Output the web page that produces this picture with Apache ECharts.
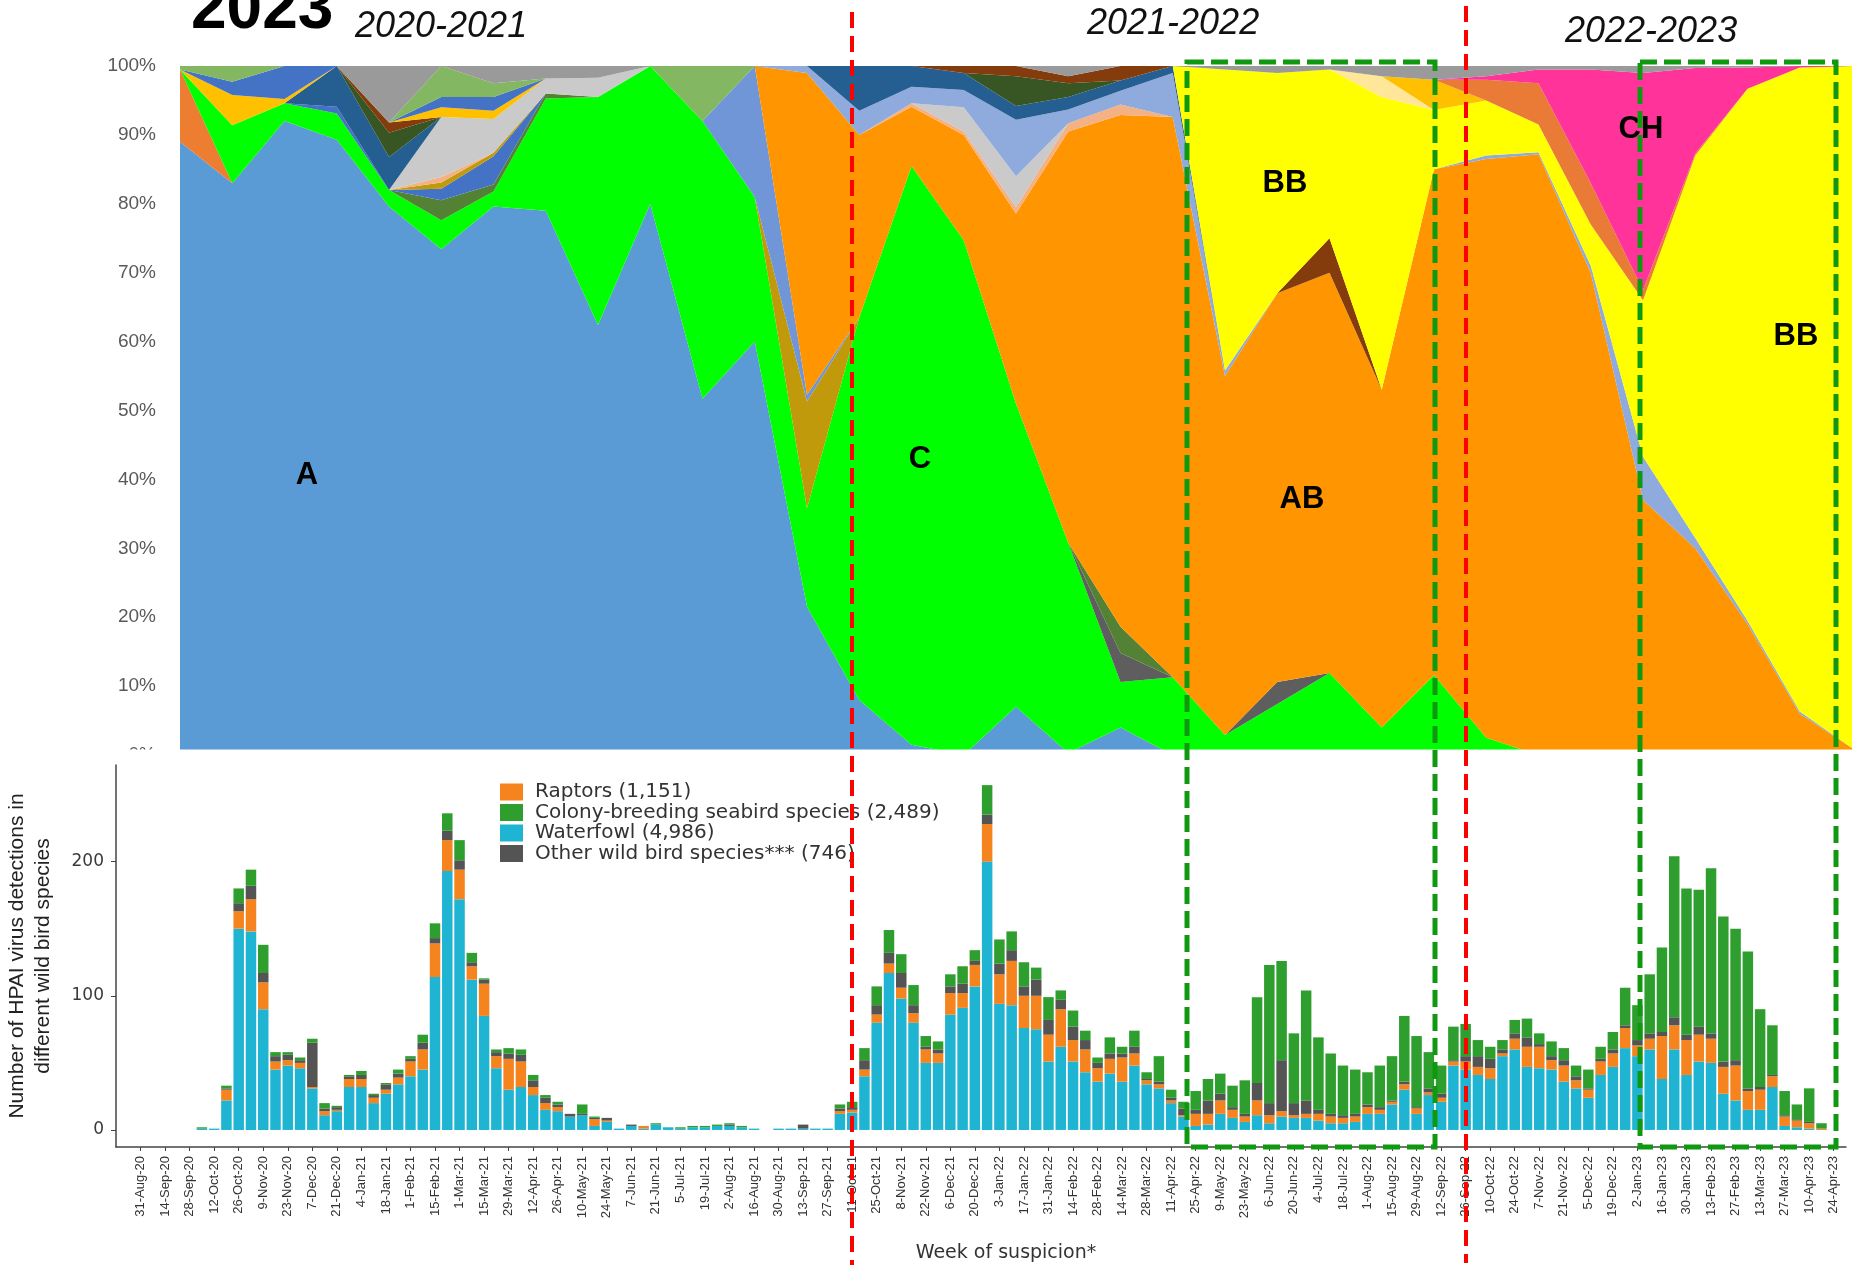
<!DOCTYPE html>
<html>
<head>
<meta charset="utf-8">
<script src="https://cdn.jsdelivr.net/npm/echarts@6/dist/echarts.min.js"></script>
<style>
  html, body { margin: 0; padding: 0; background: #ffffff; }
  #chart { width: 1856px; height: 1267px; }
</style>
</head>
<body>
<div id="chart"></div>
<script>
// ---------- Upper panel: genotype composition (100% stacked areas) ----------
// 33 sampling points, one value per point; each column is normalised to 100%.
const gA     = [89,83,92,89.3,79.6,73.4,79.6,79,62.4,80,51.7, 60,21.5,8,1.5,0,7,0.3,4,0,0,0, 0,0,0,0,0,0,0,0,0,0,0];
const gDO0   = [10.5,0,0,0,0,0,0,0,0,0,0, 0,0,0,0,0,0,0,0,0,0,0, 0,0,0,0,0,0,0,0,0,0,0];
const gC     = [0,8.4,2.6,3.8,2.4,4.2,2.2,16.3,33.1,20,40.3, 21,14.3,55.5,84,74.7,44,30.5,6.6,11.3,2.9,7.4, 11.9,4,11.6,2.5,0,0,0,0,0,0,0];
const gGr    = [0,0,0,0,0,0,0,0,0,0,0, 0,0,0,0,0,0,0,4.2,0,0,3.2, 0,0,0,0,0,0,0,0,0,0,0];
const gDG1   = [0,0,0,0,0,2.9,1,0.7,0,0,0, 0,0,0,0,0,0,0,3.8,0,0,0, 0,0,0,0,0,0,0,0,0,0,0];
const gMB    = [0,0,0,1,0,1.7,4.1,0,0,0,0, 0,0,0,0,0,0,0,0,0,0,0, 0,0,0,0,0,0,0,0,0,0,0];
const gDGold = [0,0,0,0,0,0.9,0.5,0,0,0,0, 0,15.5,0,0,0,0,0,0,0,0,0, 0,0,0,0,0,0,0,0,0,0,0];
const gL     = [0,0,0,0,0,0,0,0,0,0,0, 19,1,0,0,0,0,0,0,0,0,0, 0,0,0,0,0,0,0,0,0,0,0];
const gAB    = [0,0,0,0,0,0,0,0,0,0,0, 0,46.7,26.5,8.6,15.3,27.6,59.7,74.3,81.3,52.1,56.4, 58.1,49,73.4,84,87.2,70,37,30,19,6,1];
const gTan   = [0,0,0,0,0,0.8,0,0,0,0,0, 0,0,0,0.5,0.5,0.9,1.2,1.5,0,0,0, 0,0,0,0,0,0,0,0,0,0,0];
const gLG    = [0,0,0,0,0,8.7,4.9,2.2,2.8,0,0, 0,0,0,0,3.5,4.5,0,0,0,0,0, 0,0,0,0,0,0,0,0,0,0,0];
const gLB    = [0,0,0,0,0,0,0,0,0,0,0, 0,1,3.5,2.4,2.5,8.2,2,2,6.4,0.8,0, 0,0,0,0.5,0.3,1,6.3,1.5,0.5,0.3,0];
const gNavy  = [0,0,0,5.9,4.8,0,0,0,0,0,0, 0,0,6.5,3,2.5,2,1.8,1.5,1,0,0, 0,0,0,0,0,0,0,0,0,0,0];
const gDG2   = [0,0,0,0,3.5,0,0,0,0,0,0, 0,0,0,0,0,4.3,2,0,0,0,0, 0,0,0,0,0,0,0,0,0,0,0];
const gBrown = [0,0,0,0,1.5,0,0,0,0,0,0, 0,0,0,0,1,1.5,1,2.1,0,0,0, 5,0,0,0,0,0,0,0,0,0,0];
const gBB    = [0,0,0,0,0,0,0,0,0,0,0, 0,0,0,0,0,0,0,0,0,43.7,32, 24.5,42.5,8.6,8,4,6,22.7,55.5,77.2,93.5,99];
const gLY    = [0,0,0,0,0,0,0,0,0,0,0, 0,0,0,0,0,0,0,0,0,0,0, 0,3,0,0,0,0,0,0,0,0,0];
const gGold  = [0,4.4,0.6,0,0,1.4,1.2,0,0,0,0, 0,0,0,0,0,0,0,0,0,0,0, 0,0,4.4,0,0,0,0,0,0,0,0];
const gDO    = [0,0,0,0,0,0,0,0,0,0,0, 0,0,0,0,0,0,0,0,0,0,0, 0,0,0,3,6,6,1.5,0.3,0,0,0];
const gCH    = [0,0,0,0,0,0,0,0,0,0,0, 0,0,0,0,0,0,0,0,0,0,0, 0,0,0,0.5,2,16.5,31.5,12.4,3.1,0.2,0];
const gMB2   = [0,1.9,4.8,0,0,1.5,2,0,0,0,0, 0,0,0,0,0,0,0,0,0,0,0, 0,0,0,0,0,0,0,0,0,0,0];
const gLGr   = [0.5,2.3,0,0,0,4.5,2,0,0,0,8, 0,0,0,0,0,0,0,0,0,0,0, 0,0,0,0,0,0,0,0,0,0,0];
const gGrey  = [0,0,0,0,8.2,0,2.5,1.8,1.7,0,0, 0,0,0,0,0,0,1.5,0,0,0.5,1, 0.5,1.5,2,1.5,0.5,0.5,1,0.3,0.2,0,0];

// stacking order, bottom to top
const genotypes = [
  ['A', '#5B9BD5', gA], ['A-2', '#ED7D31', gDO0], ['C', '#00FF00', gC],
  ['G-1', '#5E5E5E', gGr], ['G-2', '#548235', gDG1], ['G-3', '#4472C4', gMB],
  ['G-4', '#C19A0B', gDGold], ['G-5', '#7096D8', gL], ['AB', '#FF9500', gAB],
  ['G-6', '#F4B183', gTan], ['G-7', '#CACACA', gLG], ['G-8', '#8FAADC', gLB],
  ['G-9', '#255E91', gNavy], ['G-10', '#375623', gDG2], ['G-11', '#843C0C', gBrown],
  ['BB', '#FFFF00', gBB], ['G-12', '#FFE699', gLY], ['G-13', '#FFC000', gGold],
  ['G-14', '#E97B36', gDO], ['CH', '#FF3399', gCH], ['G-15', '#4472C4', gMB2],
  ['G-16', '#84B761', gLGr], ['G-17', '#9A9A9A', gGrey]
];
const periods = gA.map((_, k) => String(k));
const colTotals = periods.map((_, k) => genotypes.reduce((s, g) => s + g[2][k], 0));

// ---------- Lower panel: weekly detections by bird group ----------
const weekLabels = [
  '31-Aug-20','14-Sep-20','28-Sep-20','12-Oct-20','26-Oct-20','9-Nov-20','23-Nov-20','7-Dec-20','21-Dec-20',
  '4-Jan-21','18-Jan-21','1-Feb-21','15-Feb-21','1-Mar-21','15-Mar-21','29-Mar-21','12-Apr-21','26-Apr-21',
  '10-May-21','24-May-21','7-Jun-21','21-Jun-21','5-Jul-21','19-Jul-21','2-Aug-21','16-Aug-21','30-Aug-21',
  '13-Sep-21','27-Sep-21','11-Oct-21','25-Oct-21','8-Nov-21','22-Nov-21','6-Dec-21','20-Dec-21',
  '3-Jan-22','17-Jan-22','31-Jan-22','14-Feb-22','28-Feb-22','14-Mar-22','28-Mar-22','11-Apr-22','25-Apr-22',
  '9-May-22','23-May-22','6-Jun-22','20-Jun-22','4-Jul-22','18-Jul-22','1-Aug-22','15-Aug-22','29-Aug-22',
  '12-Sep-22','26-Sep-22','10-Oct-22','24-Oct-22','7-Nov-22','21-Nov-22','5-Dec-22','19-Dec-22',
  '2-Jan-23','16-Jan-23','30-Jan-23','13-Feb-23','27-Feb-23','13-Mar-23','27-Mar-23','10-Apr-23','24-Apr-23'
];
// one value per week, starting 31-Aug-20
const waterfowl = [
  0,0,0,0,0,1,1,22,150,148,
  90,45,48,46,31,11,14,32,32,20,
  27,34,40,45,114,193,172,112,85,46,
  30,32,26,15,14,10,11,3,6,1,
  3,1,4,2,1,2,2,3,3,2,
  1,0,1,1,1,1,1,12,13,40,
  80,117,98,80,50,50,86,91,107,200,
  94,93,76,75,51,62,51,43,36,42,
  36,48,34,31,20,10,3,4,12,9,
  6,11,5,10,9,9,7,5,5,6,
  12,12,19,30,12,26,21,48,45,41,
  38,55,60,47,46,45,36,31,24,41,
  47,61,55,60,38,60,41,51,50,27,
  22,15,15,32,3,2,1,0,0
];
const raptors = [
  0,0,0,0,0,0,0,8,13,24,
  20,6,4,4,1,3,1,6,6,4,
  3,5,11,15,25,23,22,10,24,9,
  23,19,6,5,3,0,0,5,1,0,
  0,2,0,0,0,0,0,0,0,0,
  0,0,0,0,0,0,0,2,2,5,
  6,7,8,7,10,7,16,11,16,28,
  22,33,24,25,20,28,16,17,10,11,
  18,9,3,3,2,1,9,8,10,6,
  4,11,6,4,2,3,5,5,4,4,
  5,3,2,4,4,2,3,3,6,6,
  8,2,8,15,16,7,12,6,6,10,
  10,15,8,8,32,18,26,20,18,20,
  26,14,15,8,7,5,4,1,0
];
const otherWild = [
  0,0,0,0,0,0,0,1,6,10,
  7,4,4,2,33,2,2,2,3,2,
  4,3,2,5,4,7,7,3,3,3,
  4,5,5,4,2,2,1,1,2,0,
  1,0,0,0,0,0,0,0,1,0,
  0,0,0,0,3,0,0,2,2,7,
  7,8,11,6,2,3,5,7,3,7,
  8,8,7,12,11,7,10,7,4,4,
  3,5,1,2,2,5,3,10,5,2,
  2,13,9,38,9,10,3,2,2,2,
  2,2,1,2,1,3,3,1,4,8,
  7,3,4,7,2,3,4,3,1,2,
  3,2,4,4,3,6,4,6,4,4,
  4,2,2,1,1,1,1,0,0
];
const colony = [
  0,0,0,0,0,1,0,2,11,12,
  21,3,2,2,3,4,1,1,3,1,
  1,3,2,6,11,13,15,7,1,2,
  4,4,4,2,2,0,7,1,0,0,
  0,0,1,0,1,1,1,1,1,1,
  0,0,0,0,0,0,0,3,4,9,
  14,17,14,15,8,6,9,13,8,22,
  18,14,18,9,17,7,12,7,4,12,
  5,12,5,19,6,5,14,16,15,16,
  25,64,103,74,52,82,54,45,37,33,
  24,31,33,49,53,27,21,25,24,12,
  9,7,10,14,8,11,9,8,14,9,
  13,28,26,44,63,120,109,102,123,108,
  98,102,58,37,18,11,25,4,0
];
const groupNames = {
  raptors: 'Raptors (1,151)',
  colony: 'Colony-breeding seabird species (2,489)',
  waterfowl: 'Waterfowl (4,986)',
  other: 'Other wild bird species*** (746)'
};
const countTicks = [0, 100, 200];

// week slots on the axis: two empty slots before the first week, one after the last
const LEAD = 2, TRAIL = 1;
const weekSlots = Array.from({ length: LEAD + waterfowl.length + TRAIL }, (_, k) => String(k - LEAD));
const padWeeks = vals => [...Array(LEAD).fill(null), ...vals, ...Array(TRAIL).fill(null)];
const isLabelledWeek = (idx) => { const w = idx - LEAD; return w >= 0 && w < waterfowl.length && w % 2 === 0; };

// ---------- series ----------
const areaSeries = genotypes.map(([name, color, vals]) => ({
  name, type: 'line', xAxisIndex: 0, yAxisIndex: 0, stack: 'genotype',
  symbol: 'none', silent: true, lineStyle: { width: 0 },
  itemStyle: { color }, areaStyle: { color, opacity: 1 },
  data: vals.map((v, k) => v / colTotals[k] * 100)
}));
const barDefs = [
  [groupNames.waterfowl, '#1FB5D2', waterfowl],
  [groupNames.raptors, '#F5841F', raptors],
  [groupNames.other, '#545454', otherWild],
  [groupNames.colony, '#2E9E2E', colony]
];
const barSeries = barDefs.map(([name, color, vals]) => ({
  name, type: 'bar', xAxisIndex: 1, yAxisIndex: 1, stack: 'detections',
  barWidth: 10.5, silent: true, itemStyle: { color },
  data: padWeeks(vals)
}));

const bold = (t, x, y, size) => ({
  type: 'text', x, y, z: 90,
  style: { text: t, font: `bold ${size}px "Liberation Sans Narrow", "Liberation Sans", Arial, sans-serif`,
           fill: '#000', textAlign: 'center', textVerticalAlign: 'middle' }
});
const season = (t, x, y) => ({
  type: 'text', x, y, z: 90,
  style: { text: t, font: 'italic 36px "Liberation Sans", Arial, sans-serif',
           fill: '#111', textAlign: 'left', textVerticalAlign: 'middle' }
});
const redLine = (x, y1, y2) => ({
  type: 'line', z: 120, shape: { x1: x, y1, x2: x, y2 },
  style: { stroke: '#FF0000', lineWidth: 4, lineDash: [16, 8] }
});
const greenBox = (x, y, w, h) => ({
  type: 'rect', z: 110, shape: { x, y, width: w, height: h },
  style: { fill: 'none', stroke: '#109910', lineWidth: 5, lineDash: [17, 7] }
});

const option = {
  animation: false,
  backgroundColor: '#ffffff',
  grid: [
    { left: 180, top: 66, width: 1672, height: 689, containLabel: false, outerBoundsMode: 'none' },
    { left: 116, top: 765, width: 1730, height: 382, containLabel: false, outerBoundsMode: 'none' }
  ],
  xAxis: [
    { type: 'category', gridIndex: 0, data: periods, boundaryGap: false, show: false },
    {
      type: 'category', gridIndex: 1, data: weekSlots, boundaryGap: false,
      axisLine: { show: true, onZero: false, lineStyle: { color: '#444', width: 1.5 } },
      axisTick: { show: true, interval: isLabelledWeek, length: 4, lineStyle: { color: '#444' } },
      axisLabel: {
        interval: isLabelledWeek, rotate: 90, margin: 9,
        fontSize: 13, fontFamily: '"Liberation Sans", Arial, sans-serif', color: '#333',
        formatter: v => weekLabels[Number(v) / 2] || ''
      },
      splitLine: { show: false },
      name: 'Week of suspicion*', nameLocation: 'middle', nameGap: 97,
      nameTextStyle: { fontSize: 19, fontFamily: '"DejaVu Sans", sans-serif', color: '#333', padding: [0, 0, 0, 50] }
    }
  ],
  yAxis: [
    {
      type: 'value', gridIndex: 0, min: 0, max: 100, interval: 10,
      axisLine: { show: false }, axisTick: { show: false },
      axisLabel: { formatter: '{value}%', fontSize: 19, color: '#595959', margin: 24,
                   fontFamily: '"Liberation Sans", Arial, sans-serif' },
      splitLine: { show: true, lineStyle: { color: '#BFBFBF', width: 1 } }
    },
    {
      type: 'value', gridIndex: 1, min: -12.7, max: 272,
      axisLine: { show: true, onZero: false, lineStyle: { color: '#444', width: 1.5 } },
      axisTick: { show: true, customValues: countTicks, length: 5, lineStyle: { color: '#444' } },
      axisLabel: { customValues: countTicks, fontSize: 17, margin: 12, color: '#3a3a3a',
                   fontFamily: '"DejaVu Sans", sans-serif' },
      splitLine: { show: false },
      name: 'Number of HPAI virus detections in\ndifferent wild bird species',
      nameLocation: 'middle', nameRotate: 90, nameGap: 60, nameMoveOverlap: false,
      nameTextStyle: { fontSize: 21, lineHeight: 26, color: '#222', fontFamily: '"Liberation Sans", Arial, sans-serif' }
    }
  ],
  legend: {
    data: [groupNames.raptors, groupNames.colony, groupNames.waterfowl, groupNames.other],
    orient: 'vertical', left: 495, top: 777, itemWidth: 23, itemHeight: 17, itemGap: 0.5,
    icon: 'rect', selectedMode: false,
    textStyle: { fontFamily: '"DejaVu Sans", sans-serif', fontSize: 20, color: '#333', padding: [0, 0, 0, 7] }
  },
  series: [...areaSeries, ...barSeries],
  graphic: [
    { type: 'rect', z: 60, shape: { x: 0, y: 749.5, width: 1856, height: 14 }, style: { fill: '#ffffff' } },
    {
      type: 'text', x: 191, y: 10, z: 90,
      style: { text: '2023', font: 'bold 64px "Liberation Sans Narrow", "Liberation Sans", Arial, sans-serif',
               fill: '#000', textAlign: 'left', textVerticalAlign: 'middle' }
    },
    season('2020-2021', 355, 27),
    season('2021-2022', 1087, 24),
    season('2022-2023', 1565, 32),
    bold('A', 307, 475, 31),
    bold('C', 920, 459, 31),
    bold('BB', 1285, 183, 31),
    bold('AB', 1302, 499, 31),
    bold('CH', 1641, 129, 31),
    bold('BB', 1796, 336, 31),
    greenBox(1187, 62, 248, 1085),
    greenBox(1640, 62, 196, 1085),
    redLine(852, 12, 1265),
    redLine(1466, 6, 1263)
  ]
};

const chart = echarts.init(document.getElementById('chart'), null, { renderer: 'canvas', width: 1856, height: 1267 });
chart.setOption(option);
</script>
</body>
</html>
